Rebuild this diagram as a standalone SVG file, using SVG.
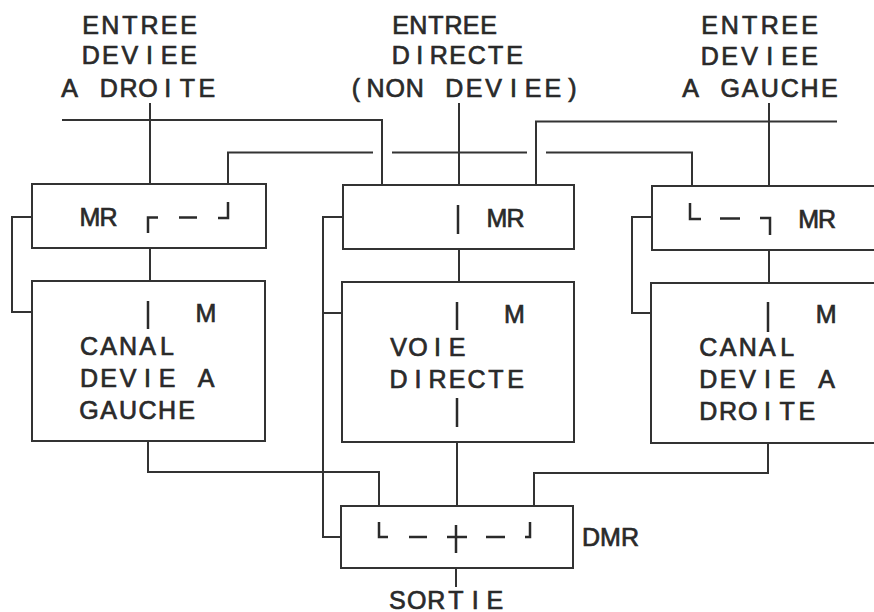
<svg xmlns="http://www.w3.org/2000/svg" width="874" height="612" viewBox="0 0 874 612">
<style>
text{font-family:"Liberation Sans",Arial,sans-serif;font-size:25px;fill:#2a2a2a;stroke:#2a2a2a;stroke-width:0.7px;text-anchor:middle}
.box{fill:none;stroke:#333;stroke-width:2}
.ln{fill:none;stroke:#333;stroke-width:2}
.sym{fill:none;stroke:#2a2a2a;stroke-width:2.5}
</style>
<rect width="874" height="612" fill="#fff"/>
<g id="connectors">
<path class="ln" d="M150,103V184M459,103V185M769,103V186"/>
<path class="ln" d="M62,120H382V185"/>
<path class="ln" d="M536,185V121.5H837"/>
<path class="ln" d="M228,184V152.5H373M392,152.5H527M546,152.5H692V186"/>
<path class="ln" d="M150,248V281M459,249V282M769,250V283"/>
<path class="ln" d="M32,217H12V312H32"/>
<path class="ln" d="M343,217H323V537H341M323,313H342"/>
<path class="ln" d="M652,217H632V313H651"/>
<path class="ln" d="M148,441V472H379V506"/>
<path class="ln" d="M457,442V506"/>
<path class="ln" d="M768,443V473H534V505"/>
<path class="ln" d="M456,568V587"/>
</g>
<g id="in_left">
<text x="90.7 110.3 129.9 149.5 169.1 188.7" y="34">ENTREE</text>
<text x="90.7 110.3 129.9 149.5 169.1 188.7" y="64">DEVIEE</text>
<text x="69.7 89.3 108.9 128.5 148.1 167.7 187.3 206.9" y="96.5">A DROITE</text>
</g>
<g id="in_center">
<text x="400.7 418.3 435.9 453.5 471.1 488.7" y="34">ENTREE</text>
<text x="400.7 419.7 438.7 457.7 476.7 495.7 514.7" y="64">DIRECTE</text>
<text x="355.8 375.5 395.2 414.9 434.6 454.3 474 493.7 513.4 533.1 552.8 572.5" y="96.5">(NON DEVIEE)</text>
</g>
<g id="in_right">
<text x="709.7 729.7 749.7 769.7 789.7 809.7" y="34">ENTREE</text>
<text x="709.7 729.7 749.7 769.7 789.7 809.7" y="64.5">DEVIEE</text>
<text x="690.7 710.5 730.3 750.1 769.9 789.7 809.5 829.3" y="97">A GAUCHE</text>
</g>
<g id="mr_left">
<rect class="box" x="32" y="184" width="234" height="64"/>
<text x="90 108.5" y="226">MR</text>
<path class="sym" d="M148,233V217.5H158M179,217.5H197M228,202V218H218"/>
</g>
<g id="mr_center">
<rect class="box" x="343" y="185" width="231" height="64"/>
<text x="497 515.5" y="226.5">MR</text>
<path class="sym" d="M458,205V234"/>
</g>
<g id="mr_right">
<rect class="box" x="652" y="186" width="240" height="64"/>
<text x="808.7 827" y="228">MR</text>
<path class="sym" d="M690,203V219H701M720,218.5H740M760,218H770V235"/>
</g>
<g id="m_left">
<rect class="box" x="32" y="281" width="233" height="160"/>
<path class="sym" d="M148,301V329"/>
<text x="205.8" y="322">M</text>
<text x="89 108.5 128 147.5 167" y="354.5">CANAL</text>
<text x="89 108.5 128 147.5 167 186.5 206" y="386.8">DEVIE A</text>
<text x="89 108.5 128 147.5 167 186.5" y="418.8">GAUCHE</text>
</g>
<g id="m_center">
<rect class="box" x="342" y="282" width="232" height="160"/>
<path class="sym" d="M457,302V330M457,398V427"/>
<text x="514.5" y="322.5">M</text>
<text x="398.5 418 437.5 457" y="355.5">VOIE</text>
<text x="398.5 418 437.5 457 476.5 496 515.5" y="387.5">DIRECTE</text>
</g>
<g id="m_right">
<rect class="box" x="651" y="283" width="240" height="160"/>
<path class="sym" d="M768,302V332"/>
<text x="826.2" y="323">M</text>
<text x="708.3 728 747.7 767.4 787.1" y="356">CANAL</text>
<text x="708.3 728 747.7 767.4 787.1 806.8 826.5" y="388">DEVIE A</text>
<text x="708.3 728 747.7 767.4 787.1 806.8" y="420">DROITE</text>
</g>
<g id="dmr">
<rect class="box" x="341" y="506" width="232" height="62"/>
<path class="sym" d="M379,522V537H388M409,537H427M447,537H467M456,525V553M486,537H505M530,522V537H525"/>
<text x="591 610.5 630" y="546">DMR</text>
</g>
<g id="sortie">
<text x="397.3 416.8 436.3 455.8 475.3 494.8" y="608.5">SORTIE</text>
</g>
</svg>
